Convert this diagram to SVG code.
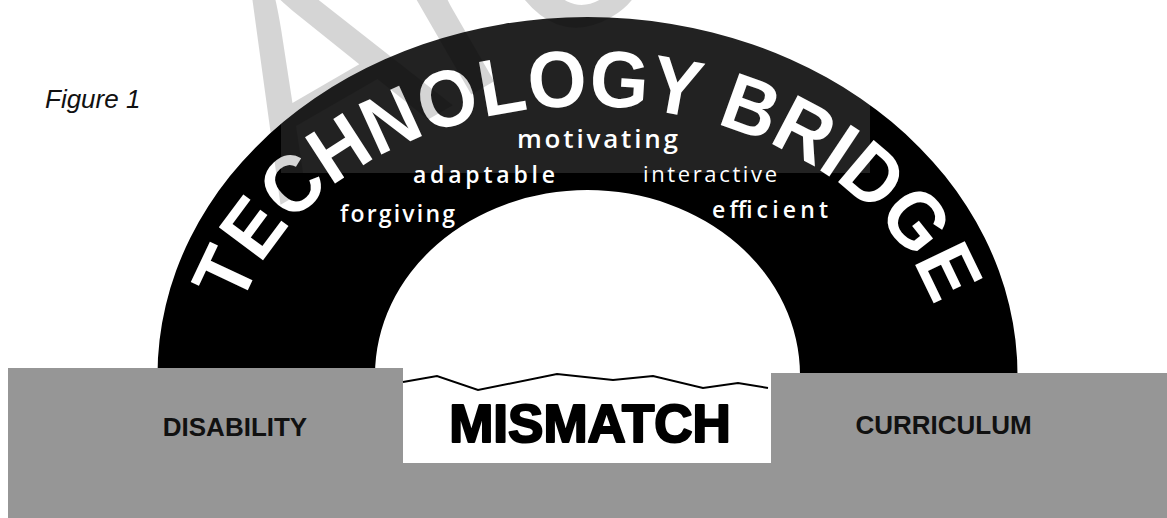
<svg xmlns="http://www.w3.org/2000/svg" width="1167" height="518" viewBox="0 0 1167 518">
  <style>
    .label { font-family: "Liberation Sans", Arial, sans-serif; font-weight: bold; fill: #111; }
    .quality { font-family: "Open Sans", "DejaVu Sans", sans-serif; fill: #fff; }
    .ground { fill: #969696; }
  </style>
  <defs>
    <path id="archLine" d="M229.5,375 A358,269 0 0 1 945.5,375"/>
  </defs>

  <rect width="1167" height="518" fill="#fff"/>

  <!-- caption -->
  <g id="caption">
    <text x="45" y="108" font-family="Liberation Sans, Arial, sans-serif" font-style="italic" font-size="26" fill="#111">Figure 1</text>
  </g>

  <!-- the bridge arch -->
  <g id="bridge">
    <path d="M157.5,375 A430,358 0 0 1 1017.5,375 L800,375 A212.5,185 0 0 0 375,375 Z" fill="#000"/>
    <text font-family="Liberation Sans, Arial, sans-serif" font-weight="bold" font-size="80" fill="#fff">
      <textPath href="#archLine" startOffset="50%" text-anchor="middle" textLength="850" lengthAdjust="spacingAndGlyphs">TECHNOLOGY BRIDGE</textPath>
    </text>
    <text class="quality" x="517" y="148" font-size="26" font-weight="600" textLength="161" lengthAdjust="spacing">motivating</text>
    <text class="quality" x="413" y="183" font-size="23" font-weight="600" textLength="142" lengthAdjust="spacing">adaptable</text>
    <text class="quality" x="643" y="182" font-size="22" font-weight="500" textLength="134" lengthAdjust="spacing">interactive</text>
    <text class="quality" x="340" y="222" font-size="23" font-weight="600" textLength="115" lengthAdjust="spacing">forgiving</text>
    <text class="quality" x="712" y="218" font-size="23" font-weight="600" textLength="116" lengthAdjust="spacing">efficient</text>
  </g>

  <!-- light veil over the crown of the arch -->
  <rect x="281" y="0" width="589" height="173" fill="#fff" opacity="0.135"/>

  <!-- ground blocks -->
  <g id="ground">
    <rect class="ground" x="8" y="463" width="1159" height="55"/>
    <rect class="ground" x="8" y="368" width="395" height="100"/>
    <rect class="ground" x="771" y="373" width="396" height="95"/>
  </g>

  <g id="disability">
    <text class="label" x="235" y="436" font-size="26" text-anchor="middle">DISABILITY</text>
  </g>
  <g id="curriculum">
    <text class="label" x="943.5" y="434" font-size="26" text-anchor="middle">CURRICULUM</text>
  </g>

  <!-- the gap between the banks -->
  <g id="mismatch">
    <rect x="403" y="368" width="368" height="95" fill="#fff"/>
    <text x="590" y="442" font-family="Liberation Sans, Arial, sans-serif" font-weight="bold" font-size="53" fill="#000" stroke="#000" stroke-width="2.2" stroke-linejoin="round" text-anchor="middle">MISMATCH</text>
  </g>

  <g id="connectors">
    <polyline points="403,382 437,376 478,390 557,374 613,380 653,376 703,388 738,383 768,388" fill="none" stroke="#000" stroke-width="2"/>
  </g>

  <!-- faint watermark -->
  <text transform="translate(280,205) rotate(-30)" font-family="Liberation Sans, Arial, sans-serif" font-size="300" fill="#000" opacity="0.16">Arc</text>
</svg>
